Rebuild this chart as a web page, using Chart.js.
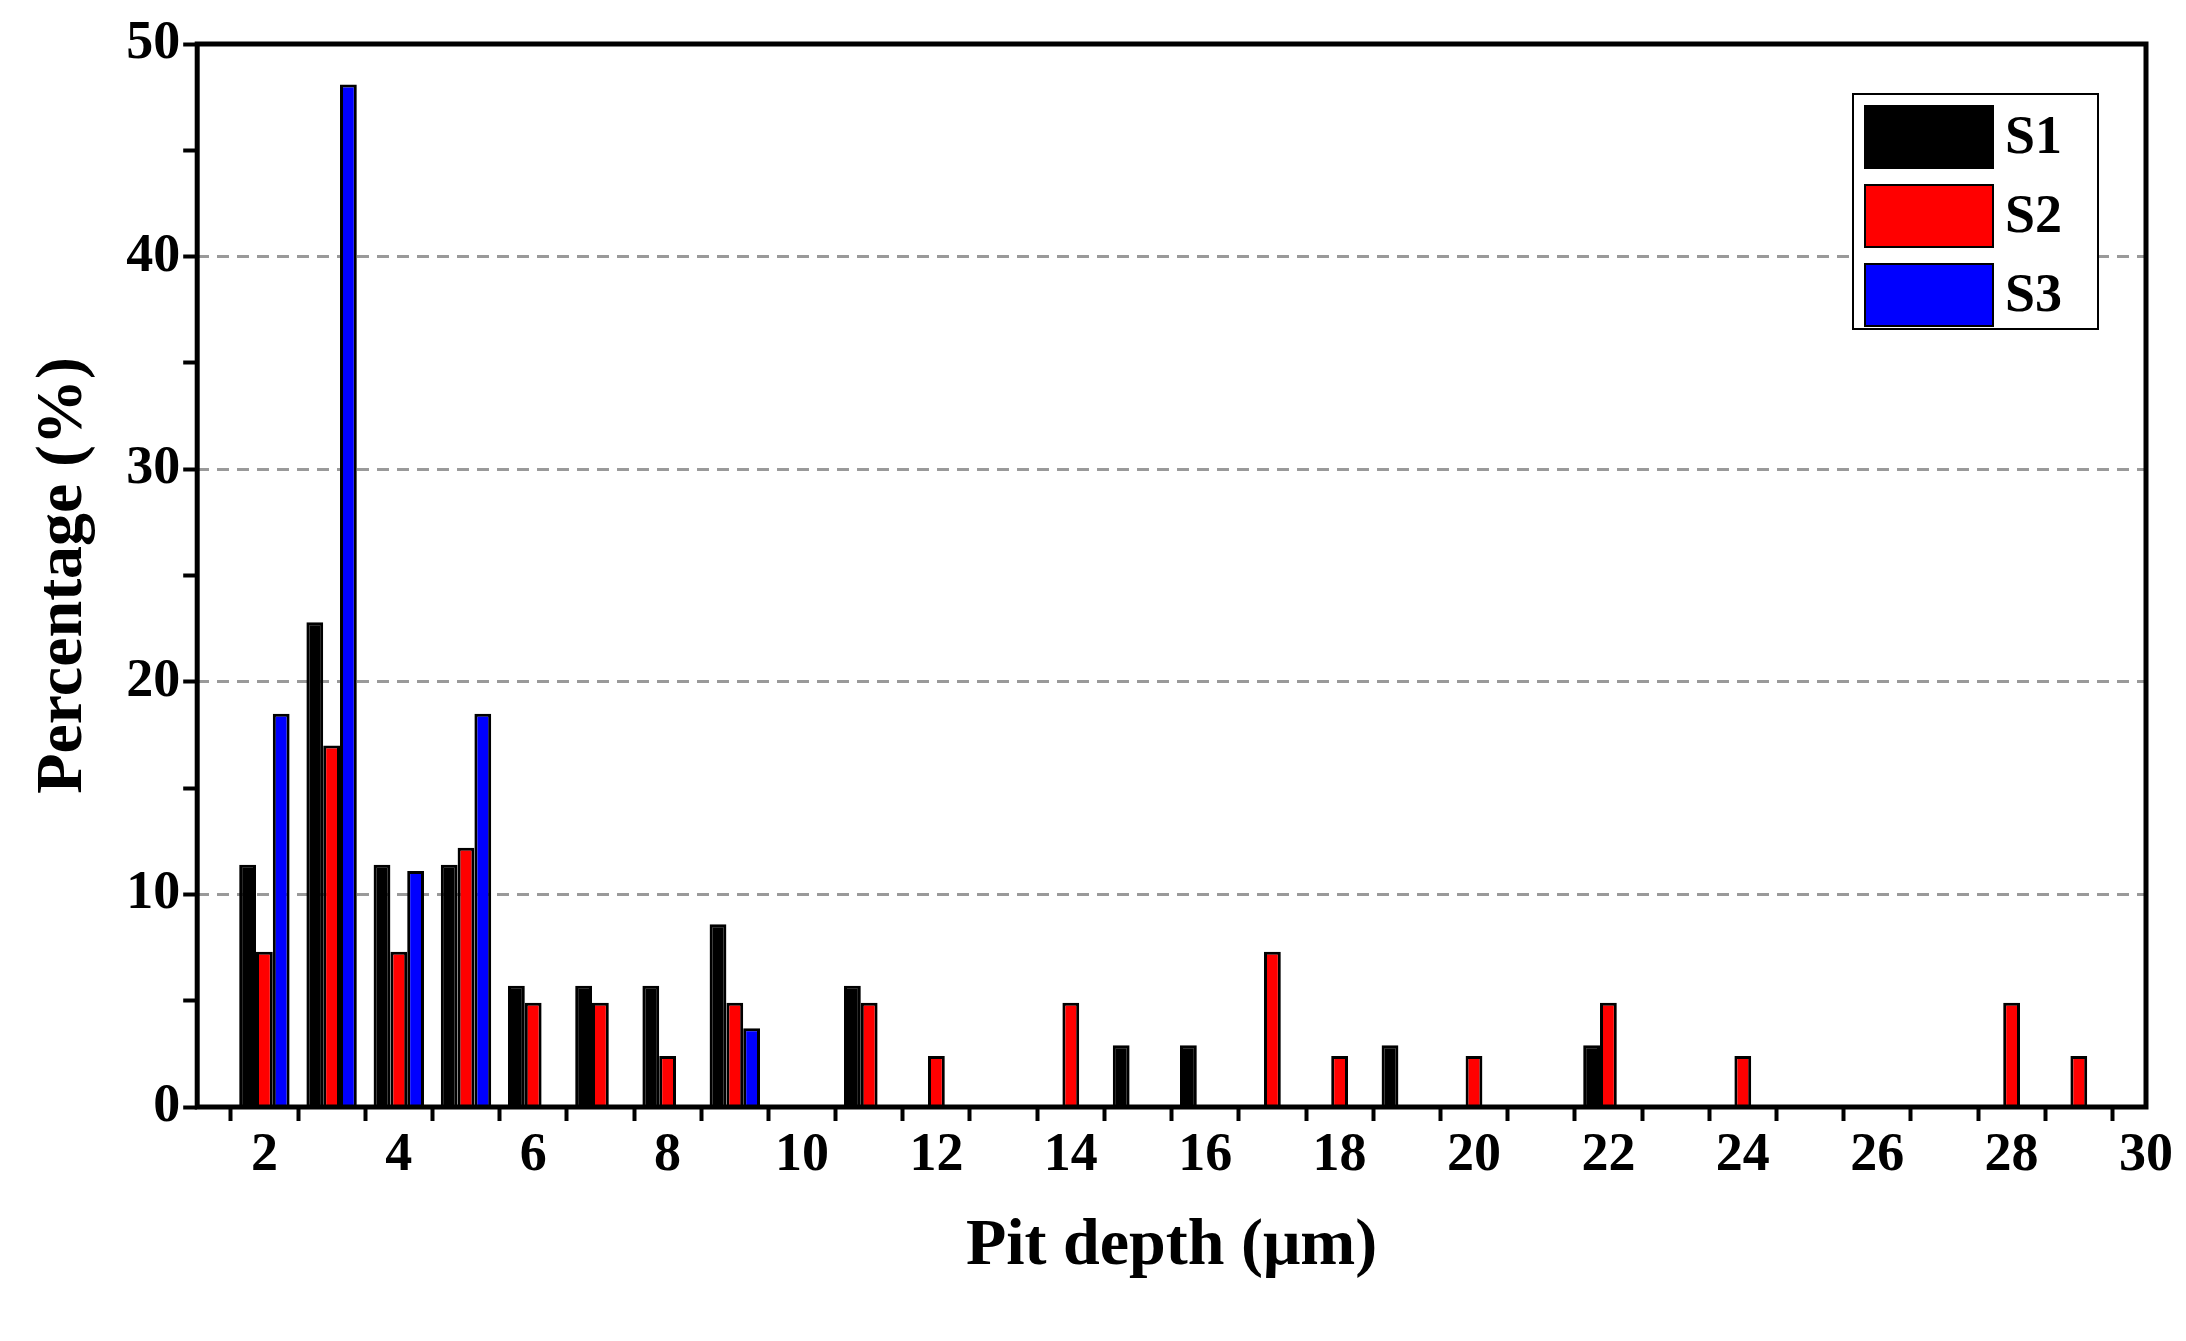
<!DOCTYPE html>
<html lang="en">
<head>
<meta charset="UTF-8">
<title>Pit depth distribution</title>
<script src="https://cdn.jsdelivr.net/npm/chart.js"></script>
<style>
  html, body { margin: 0; padding: 0; background: #fff; }
  #wrap { width: 2186px; height: 1341px; }
</style>
</head>
<body>
<div id="wrap"><canvas id="myChart"></canvas></div>
<script>
// pit depth bins (µm)
const depths = [2, 3, 4, 5, 6, 7, 8, 9, 10, 11, 12, 13, 14, 15, 16, 17, 18, 19, 20, 21, 22, 23, 24, 25, 26, 27, 28, 29];
// percentage per series (null = no bar)
const s1 = [11.4, 22.8, 11.4, 11.4, 5.7, 5.7, 5.7, 8.6, null, 5.7, null, null, null, 2.9, 2.9, null, null, 2.9, null, null, 2.9, null, null, null, null, null, null, null];
const s2 = [7.3, 17.0, 7.3, 12.2, 4.9, 4.9, 2.4, 4.9, null, 4.9, 2.4, null, 4.9, null, null, 7.3, 2.4, null, 2.4, null, 4.9, null, 2.4, null, null, null, 4.9, 2.4];
const s3 = [18.5, 48.1, 11.1, 18.5, null, null, null, 3.7, null, null, null, null, null, null, null, null, null, null, null, null, null, null, null, null, null, null, null, null];
const seriesNames = ['S1', 'S2', 'S3'];
const seriesColors = ['#000000', '#ff0000', '#0000ff'];

const font = 'Liberation Serif, Times New Roman, serif';

function toPoints(arr) {
  return depths.map((d, i) => ({ x: d, y: arr[i] }));
}

// frame box + legend drawn on top
const framePlugin = {
  id: 'frame',
  afterDraw(chart) {
    const ctx = chart.ctx, a = chart.chartArea;
    ctx.save();
    ctx.strokeStyle = '#000';
    ctx.lineWidth = 5;
    ctx.strokeRect(a.left, a.top, a.right - a.left, a.bottom - a.top);

    // legend
    const lx = a.right - 293, ly = a.top + 50, lw = 245, lh = 235;
    ctx.lineWidth = 2;
    ctx.fillStyle = '#fff';
    ctx.fillRect(lx, ly, lw, lh);
    ctx.strokeRect(lx, ly, lw, lh);
    ctx.font = 'bold 54px ' + font;
    ctx.textBaseline = 'middle';
    seriesNames.forEach((n, i) => {
      const y = ly + 12 + i * 79;
      ctx.fillStyle = seriesColors[i];
      ctx.fillRect(lx + 12, y, 128, 62);
      ctx.strokeStyle = '#000';
      ctx.strokeRect(lx + 12, y, 128, 62);
      ctx.fillStyle = '#000';
      ctx.fillText(n, lx + 152, y + 33);
    });
    ctx.restore();
  }
};

const datasets = [s1, s2, s3].map((arr, i) => ({
  label: seriesNames[i],
  data: toPoints(arr),
  backgroundColor: seriesColors[i],
  borderColor: '#000',
  borderWidth: 3,
  categoryPercentage: 0.75,
  barPercentage: 1.0
}));

new Chart(document.getElementById('myChart'), {
  type: 'bar',
  data: { datasets: datasets },
  plugins: [framePlugin],
  options: {
    responsive: true,
    maintainAspectRatio: false,
    animation: false,
    layout: { padding: { top: 44, right: 40, left: 20, bottom: 50 } },
    plugins: { legend: { display: false }, tooltip: { enabled: false } },
    scales: {
      x: {
        type: 'linear',
        min: 1, max: 30,
        offset: false,
        grid: { drawOnChartArea: false, tickLength: 14, tickColor: '#000', tickWidth: 4 },
        border: { display: false },
        ticks: {
          stepSize: 1,
          autoSkip: false,
          maxRotation: 0,
          color: '#000',
          font: { family: font, weight: 'bold', size: 54 },
          callback: v => (v % 2 === 0 ? v : '')
        },
        title: {
          display: true, text: 'Pit depth (\u03bcm)', color: '#000',
          font: { family: font, weight: 'bold', size: 66 }, padding: { top: 16 }
        }
      },
      y: {
        min: 0, max: 50,
        grid: {
          color: c => (c.tick && c.tick.value % 10 === 0 && c.tick.value > 0 && c.tick.value < 50) ? '#9a9a9a' : 'rgba(0,0,0,0)',
          lineWidth: 3,
          tickColor: '#000',
          tickWidth: 4,
          tickLength: 14,
          tickBorderDash: []
        },
        border: { display: false, dash: [12, 8] },
        ticks: {
          stepSize: 5,
          color: '#000',
          font: { family: font, weight: 'bold', size: 54 },
          callback: v => (v % 10 === 0 ? v : '')
        },
        title: {
          display: true, text: 'Percentage (%)', color: '#000',
          font: { family: font, weight: 'bold', size: 66 }, padding: { bottom: 20 }
        }
      }
    }
  }
});
</script>
</body>
</html>
